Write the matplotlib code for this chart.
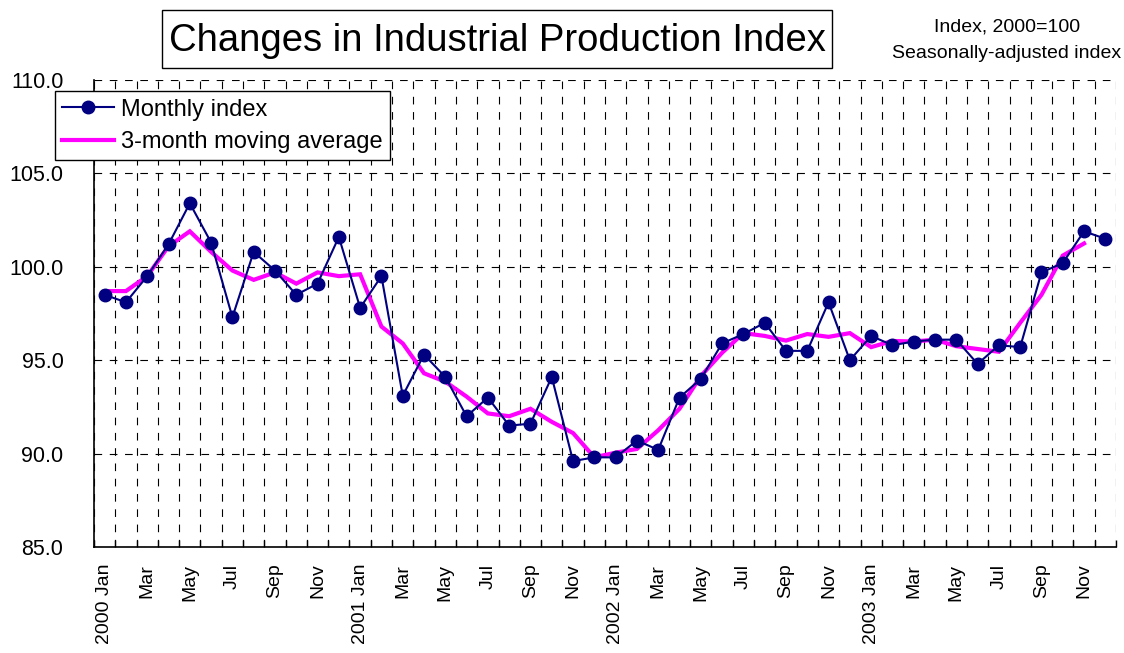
import matplotlib
matplotlib.use("Agg")
import matplotlib.pyplot as plt
from matplotlib.patches import Rectangle
from matplotlib.lines import Line2D
import numpy as np

plt.rcParams['font.family'] = ['Liberation Sans', 'DejaVu Sans']
plt.rcParams['lines.scale_dashes'] = False

months = ["Jan", "Feb", "Mar", "Apr", "May", "Jun",
          "Jul", "Aug", "Sep", "Oct", "Nov", "Dec"]
years = [2000, 2001, 2002, 2003]

monthly_index = [
    98.5, 98.1, 99.5, 101.2, 103.4, 101.3, 97.3, 100.8, 99.8, 98.5, 99.1, 101.6,
    97.8, 99.5, 93.1, 95.3, 94.1, 92.0, 93.0, 91.5, 91.6, 94.1, 89.6, 89.8,
    89.8, 90.7, 90.2, 93.0, 94.0, 95.9, 96.4, 97.0, 95.5, 95.5, 98.1, 95.0,
    96.3, 95.8, 96.0, 96.1, 96.1, 94.8, 95.8, 95.7, 99.7, 100.2, 101.9, 101.5,
]

moving_avg = [
    98.7, 98.7, 99.5, 101.1, 101.9, 100.8, 99.8, 99.3, 99.7, 99.1, 99.7, 99.5,
    99.6, 96.8, 95.9, 94.3, 93.85, 93.05, 92.15, 92.0, 92.4, 91.7, 91.1, 89.8,
    90.05, 90.25, 91.25, 92.4, 94.15, 95.4, 96.45, 96.3, 96.05, 96.4, 96.25, 96.45,
    95.7, 96.03, 96.0, 96.1, 95.75, 95.6, 95.45, 97.0, 98.5, 100.6, 101.25,
]

yticks = [85.0, 90.0, 95.0, 100.0, 105.0, 110.0]

# tick labels every two months
labels = []
for y in years:
    for m in range(0, 12, 2):
        labels.append(f"{y} {months[m]}" if m == 0 else months[m])

W, H = 1124, 653
fig = plt.figure(figsize=(W / 100, H / 100), dpi=100)
ax = fig.add_axes([94 / W, 1 - 547 / H, (1116 - 94) / W, (547 - 80) / H])

n = len(monthly_index)
x = np.arange(n)
xm = np.arange(len(moving_avg))

navy = "#000080"
magenta = "#FF00FF"

ax.plot(xm, moving_avg, color=magenta, lw=3.0, solid_joinstyle='miter', zorder=3,
        label="3-month moving average")
ax.plot(x, monthly_index, color=navy, lw=1.5, marker='o', markersize=9,
        markerfacecolor=navy, markeredgecolor=navy, zorder=4, label="Monthly index")

ax.set_xlim(-0.5, n - 0.5)
ax.set_ylim(85, 110)
ax.set_yticks(yticks)
ax.set_yticklabels([f"{v:.1f}" for v in yticks], fontsize=15.5)
ax.tick_params(axis='y', length=0, pad=22)

ax.set_xticks(np.arange(0, n, 2))
ax.set_xticklabels(labels, rotation=90, fontsize=14, va='top', ha='center')
ax.set_xticks(np.arange(-0.5, n, 1), minor=True)
ax.tick_params(axis='x', which='major', length=0, pad=12)
ax.tick_params(axis='x', which='minor', direction='in', length=5, width=1.0, color='black')

grid_kw = dict(color='black', lw=0.8, linestyle=(0, (5.5, 5.5)))
ax.xaxis.grid(True, which='minor', **grid_kw)
ax.yaxis.grid(True, which='major', **grid_kw)
ax.set_axisbelow(True)

for s in ['top', 'right']:
    ax.spines[s].set_visible(False)
for s in ['left', 'bottom']:
    ax.spines[s].set_color('black')
    ax.spines[s].set_linewidth(1.2)

# legend
handles = [
    Line2D([], [], color=navy, lw=1.5, marker='o', markersize=9,
           markerfacecolor=navy, markeredgecolor=navy),
    Line2D([], [], color=magenta, lw=3.0),
]
leg = fig.legend(handles, ["Monthly index", "3-month moving average"],
                 loc='upper left', bbox_to_anchor=(55 / W, 1 - 91.5 / H),
                 fontsize=17, frameon=True, fancybox=False, edgecolor='black',
                 framealpha=1, handlelength=2.2, handletextpad=0.3,
                 labelspacing=0.45, borderpad=0.3, borderaxespad=0)
leg.get_frame().set_linewidth(1.0)

# title box
fig.patches.append(Rectangle((162 / W, 1 - 68 / H), (832 - 162) / W, 58 / H,
                             transform=fig.transFigure, fill=False,
                             edgecolor='black', lw=1.0))
fig.text(497 / W, 1 - 41 / H, "Changes in Industrial Production Index",
         ha='center', va='center', fontsize=27.5)

fig.text(1007 / W, 1 - 27 / H, "Index, 2000=100", ha='center', va='center', fontsize=14)
fig.text(1007 / W, 1 - 54 / H, "Seasonally-adjusted index", ha='center', va='center', fontsize=14)

fig.savefig("out.png", dpi=100)
